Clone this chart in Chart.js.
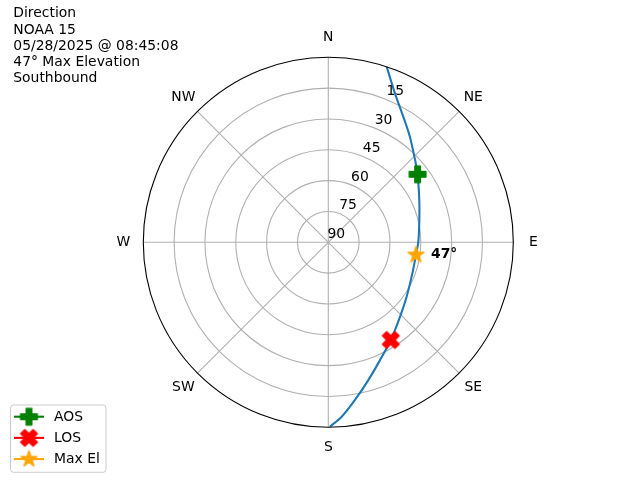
<!DOCTYPE html>
<html>
<head>
<meta charset="utf-8">
<script src="https://cdn.jsdelivr.net/npm/chart.js@4.4.1/dist/chart.umd.min.js"></script>
<style>
  html, body { margin: 0; padding: 0; background: #ffffff; }
  #wrap { position: relative; width: 640px; height: 480px; }
  canvas { display: block; }
</style>
</head>
<body>
<div id="wrap"><canvas id="c" width="640" height="480"></canvas></div>
<script>
// ---- data ----
const titleLines = ['Direction', 'NOAA 15', '05/28/2025 @ 08:45:08', '47° Max Elevation', 'Southbound'];
const compassLabels = ['N', 'NE', 'E', 'SE', 'S', 'SW', 'W', 'NW'];
const compassAz = [0, 45, 90, 135, 180, 225, 270, 315];
const ringRadii = [0, 15, 30, 45, 60, 75];          // zenith distance (90 - elevation)
const ringLabels = ['90', '75', '60', '45', '30', '15'];
const passAz = [18.4, 24.1, 30.8, 37.7, 46.5, 52.7, 65.1, 76.2, 89.6, 98.2, 110.3, 124.8, 136.1, 147.4, 156.3, 163.8, 170.4, 175.6, 179.5];
const passEl = [0.0, 10.6, 18.8, 25.1, 31.8, 35.4, 41.2, 44.4, 46.2, 46.9, 46.4, 43.6, 39.7, 33.6, 27.4, 20.2, 12.2, 4.9, 0.3];
const markerNames = ['AOS', 'LOS', 'Max El'];
const markerAz = [52.7, 147.4, 98.2];
const markerEl = [35.4, 33.6, 46.9];
const maxElLabel = '47°';

// ---- helpers ----
const RMAX = 90;
function toXY(az, el) {
  const r = 90 - el;
  const a = az * Math.PI / 180;
  return { x: r * Math.sin(a), y: r * Math.cos(a) };
}
const FONT = '"DejaVu Sans", sans-serif';
const FS = 13.9;

function makeMarker(shape, color) {
  const s = 16.7, pad = 3;
  const size = Math.ceil(s + pad * 2);
  const cv = document.createElement('canvas');
  cv.width = size; cv.height = size;
  const ctx = cv.getContext('2d');
  ctx.translate(size / 2, size / 2);
  let pts = [];
  if (shape === 'plus') {
    pts = [[-1,-3],[1,-3],[1,-1],[3,-1],[3,1],[1,1],[1,3],[-1,3],[-1,1],[-3,1],[-3,-1],[-1,-1]]
      .map(p => [p[0] / 6 * s, p[1] / 6 * s]);
  } else if (shape === 'x') {
    pts = [[-1,-2],[0,-1],[1,-2],[2,-1],[1,0],[2,1],[1,2],[0,1],[-1,2],[-2,1],[-1,0],[-2,-1]]
      .map(p => [p[0] / 4 * s, p[1] / 4 * s]);
  } else {
    const ro = s / 2, ri = ro * 0.381966;
    for (let i = 0; i < 10; i++) {
      const r = i % 2 === 0 ? ro : ri;
      const a = -Math.PI / 2 + i * Math.PI / 5;
      pts.push([r * Math.cos(a), r * Math.sin(a)]);
    }
  }
  ctx.beginPath();
  pts.forEach((p, i) => i ? ctx.lineTo(p[0], p[1]) : ctx.moveTo(p[0], p[1]));
  ctx.closePath();
  ctx.fillStyle = color;
  ctx.strokeStyle = color;
  ctx.lineWidth = 1.39;
  ctx.lineJoin = 'round';
  ctx.fill();
  ctx.stroke();
  return cv;
}
const markerColors = ['#008000', '#ff0000', '#ffa500'];
const markerImgs = [makeMarker('plus', markerColors[0]), makeMarker('x', markerColors[1]), makeMarker('star', markerColors[2])];

const polarPlugin = {
  id: 'polarDecor',
  beforeDatasetsDraw(chart) {
    const ctx = chart.ctx, xs = chart.scales.x, ys = chart.scales.y;
    const cx = xs.getPixelForValue(0), cy = ys.getPixelForValue(0);
    const pr = v => xs.getPixelForValue(v) - cx;
    ctx.save();
    ctx.strokeStyle = '#b0b0b0';
    ctx.lineWidth = 1.1;
    ringRadii.forEach(r => {
      if (r <= 0) return;
      ctx.beginPath();
      ctx.arc(cx, cy, pr(r), 0, Math.PI * 2);
      ctx.stroke();
    });
    compassAz.forEach(az => {
      const p = toXY(az, 0);
      ctx.beginPath();
      ctx.moveTo(cx, cy);
      ctx.lineTo(xs.getPixelForValue(p.x), ys.getPixelForValue(p.y));
      ctx.stroke();
    });
    ctx.restore();
  },
  afterDatasetsDraw(chart) {
    const ctx = chart.ctx, xs = chart.scales.x, ys = chart.scales.y;
    const cx = xs.getPixelForValue(0), cy = ys.getPixelForValue(0);
    const R = xs.getPixelForValue(RMAX) - cx;
    ctx.save();
    // outer spine
    ctx.strokeStyle = '#000000';
    ctx.lineWidth = 1.1;
    ctx.beginPath();
    ctx.arc(cx, cy, R, 0, Math.PI * 2);
    ctx.stroke();
    // compass labels
    ctx.fillStyle = '#000000';
    ctx.font = FS + 'px ' + FONT;
    ctx.textAlign = 'center';
    ctx.textBaseline = 'middle';
    compassLabels.forEach((lab, i) => {
      const a = compassAz[i] * Math.PI / 180;
      ctx.fillText(lab, cx + (R + 20) * Math.sin(a), cy - (R + 20) * Math.cos(a));
    });
    // radial tick labels along 22.5 deg
    const ra = 22.5 * Math.PI / 180;
    ringRadii.forEach((r, i) => {
      const rp = xs.getPixelForValue(r) - cx;
      ctx.fillText(ringLabels[i], cx + rp * Math.sin(ra) + 8, cy - rp * Math.cos(ra) - 8);
    });
    // max elevation annotation
    const mp = toXY(markerAz[2], markerEl[2]);
    ctx.font = 'bold ' + FS + 'px ' + FONT;
    ctx.textAlign = 'left';
    ctx.fillText(maxElLabel, xs.getPixelForValue(mp.x) + 15, ys.getPixelForValue(mp.y) - 1);
    // title text
    ctx.font = FS + 'px ' + FONT;
    ctx.textBaseline = 'alphabetic';
    titleLines.forEach((t, i) => ctx.fillText(t, 13.3, 17.3 + i * 16.2));
    // legend
    const bx = 10.5, by = 405, bw = 95.5, bh = 67.3, rad = 3;
    ctx.beginPath();
    ctx.moveTo(bx + rad, by);
    ctx.arcTo(bx + bw, by, bx + bw, by + bh, rad);
    ctx.arcTo(bx + bw, by + bh, bx, by + bh, rad);
    ctx.arcTo(bx, by + bh, bx, by, rad);
    ctx.arcTo(bx, by, bx + bw, by, rad);
    ctx.closePath();
    ctx.fillStyle = 'rgba(255,255,255,0.8)';
    ctx.fill();
    ctx.strokeStyle = '#cccccc';
    ctx.lineWidth = 1;
    ctx.stroke();
    markerNames.forEach((name, i) => {
      const y = 416.7 + i * 21.2;
      ctx.strokeStyle = markerColors[i];
      ctx.lineWidth = 2.08;
      ctx.beginPath();
      ctx.moveTo(14, y);
      ctx.lineTo(44, y);
      ctx.stroke();
      const img = markerImgs[i];
      ctx.drawImage(img, 29 - img.width / 2, y - img.height / 2);
      ctx.fillStyle = '#000000';
      ctx.textBaseline = 'middle';
      ctx.fillText(name, 54, y + 0.5);
    });
    ctx.restore();
  }
};

const passData = passAz.map((az, i) => toXY(az, passEl[i]));
const markerSets = markerNames.map((name, i) => ({
  label: name,
  data: [toXY(markerAz[i], markerEl[i])],
  pointStyle: markerImgs[i],
  pointRadius: 9,
  borderColor: markerColors[i],
  backgroundColor: markerColors[i],
  showLine: false,
  order: 0
}));

new Chart(document.getElementById('c'), {
  type: 'scatter',
  data: {
    datasets: [{
      label: 'Pass',
      data: passData,
      showLine: true,
      borderColor: '#1f77b4',
      borderWidth: 2.08,
      pointRadius: 0,
      tension: 0.3,
      fill: false,
      order: 1
    }].concat(markerSets)
  },
  options: {
    responsive: false,
    animation: false,
    layout: { padding: { left: 143.3, right: 126.7, top: 57.3, bottom: 52.7 } },
    scales: {
      x: { type: 'linear', min: -RMAX, max: RMAX, display: false },
      y: { type: 'linear', min: -RMAX, max: RMAX, display: false }
    },
    plugins: { legend: { display: false }, tooltip: { enabled: false } }
  },
  plugins: [polarPlugin]
});
</script>
</body>
</html>
